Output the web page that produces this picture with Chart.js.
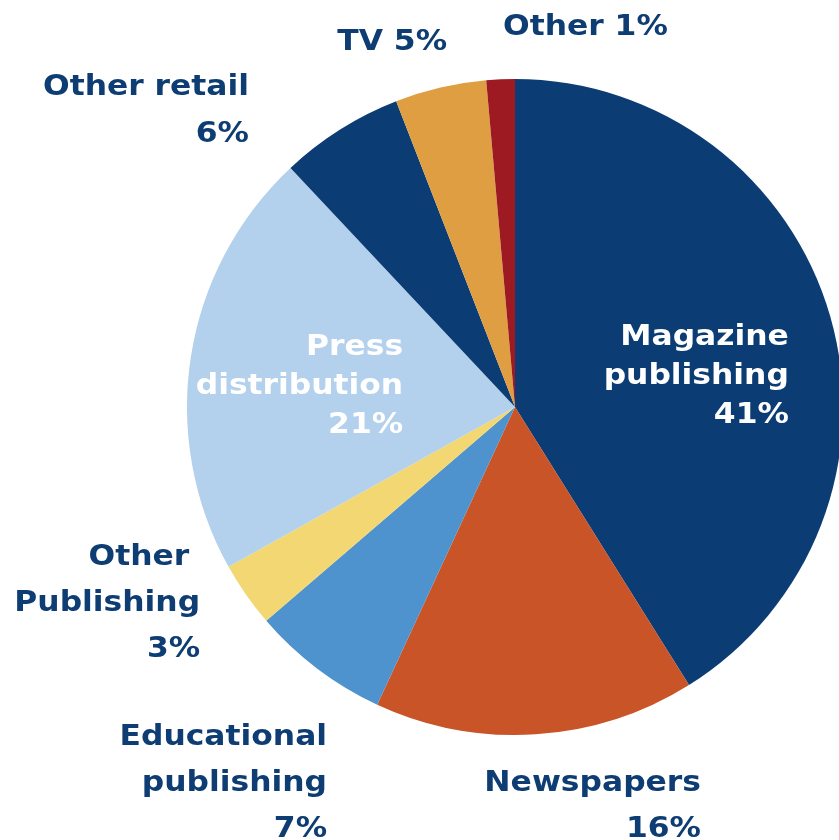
<!DOCTYPE html>
<html>
<head>
<meta charset="utf-8">
<script src="https://cdn.jsdelivr.net/npm/chart.js@4.4.0/dist/chart.umd.min.js"></script>
<style>
  html, body { margin: 0; padding: 0; background: #fff; overflow: hidden; }
  #wrap { position: absolute; left: 0; top: 0; width: 860px; height: 840px; }
</style>
</head>
<body>
<div id="wrap"><canvas id="pieChart"></canvas></div>
<script>
// data, clockwise from 12 o'clock
const categories = [
  ["Magazine", "publishing"],
  ["Newspapers"],
  ["Educational", "publishing"],
  ["Other ", "Publishing"],
  ["Press", "distribution"],
  ["Other retail"],
  ["TV"],
  ["Other"]
];
const shares = [41.1, 15.8, 6.8, 3.2, 21.1, 6.1, 4.5, 1.4];
const pctLabels = ["41%", "16%", "7%", "3%", "21%", "6%", "5%", "1%"];

const sliceColors = ["#0b3c74", "#c85428", "#4e93cd", "#f3d772", "#b3d1ec", "#0b3c74", "#e09e42", "#9e1a22"];

// label anchor (right edge, first baseline) relative to pie centre, in radius units
const labelLayout = [
  { dx: 0.835, dy: -0.189, lh: 39, color: "#ffffff" },
  { dx: 0.567, dy: 1.171, lh: 46, color: "#0e3d74" },
  { dx: -0.573, dy: 1.030, lh: 46, color: "#0e3d74" },
  { dx: -0.960, dy: 0.482, lh: 46, color: "#0e3d74" },
  { dx: -0.341, dy: -0.159, lh: 39, color: "#ffffff" },
  { dx: -0.811, dy: -0.951, lh: 47, color: "#0e3d74" },
  { dx: -0.207, dy: -1.088, lh: 46, color: "#0e3d74", inline: true },
  { dx: 0.466, dy: -1.134, lh: 46, color: "#0e3d74", inline: true }
];

const labelPlugin = {
  id: "sliceLabels",
  afterDatasetsDraw(chart) {
    const ctx = chart.ctx;
    const arc = chart.getDatasetMeta(0).data[0];
    const cx = arc.x, cy = arc.y, r = arc.outerRadius;
    labelLayout.forEach((lay, i) => {
      let lines = categories[i].slice();
      if (lay.inline) lines[lines.length - 1] += " " + pctLabels[i];
      else lines.push(pctLabels[i]);
      ctx.save();
      ctx.font = 'bold 28px "DejaVu Sans"';
      ctx.fillStyle = lay.color;
      ctx.textAlign = "right";
      ctx.textBaseline = "alphabetic";
      ctx.translate(cx + lay.dx * r, cy + lay.dy * r);
      ctx.scale(1.12, 1);
      lines.forEach((t, j) => ctx.fillText(t, 0, j * lay.lh));
      ctx.restore();
    });
  }
};

new Chart(document.getElementById("pieChart"), {
  type: "pie",
  data: {
    labels: categories,
    datasets: [{
      data: shares,
      backgroundColor: sliceColors,
      borderWidth: 0,
      hoverOffset: 0
    }]
  },
  options: {
    responsive: true,
    maintainAspectRatio: false,
    animation: false,
    layout: { padding: { left: 187, top: 79, right: 17, bottom: 105 } },
    plugins: {
      legend: { display: false },
      tooltip: { enabled: false }
    }
  },
  plugins: [labelPlugin]
});
</script>
</body>
</html>
